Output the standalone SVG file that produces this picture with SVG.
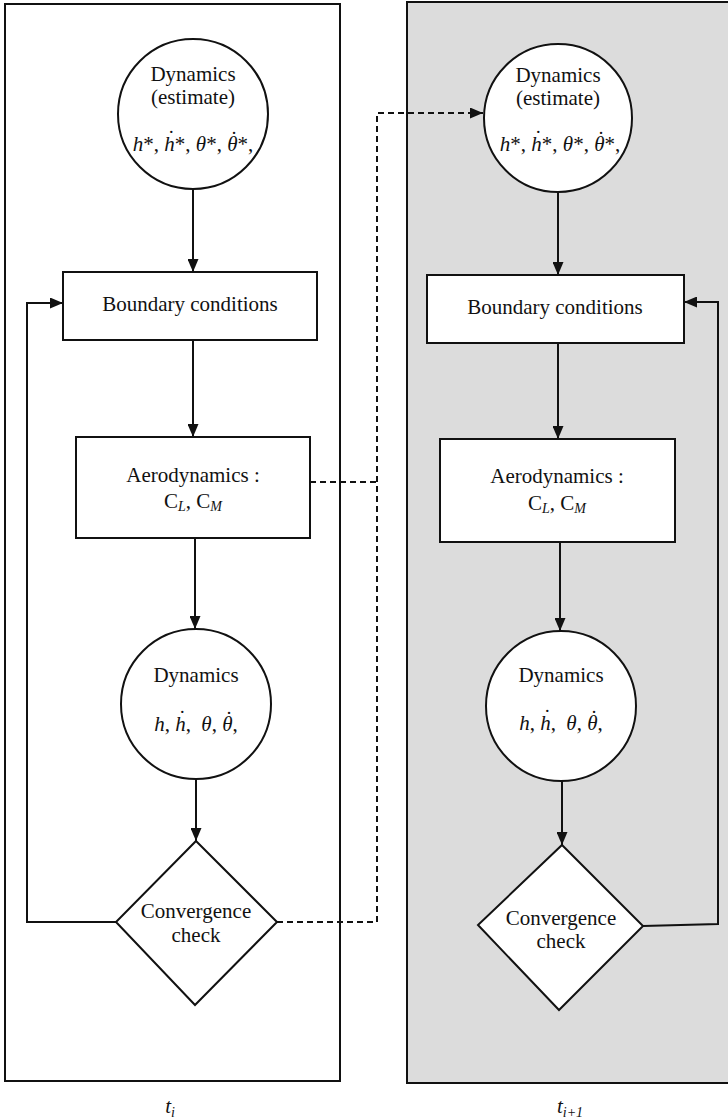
<svg xmlns="http://www.w3.org/2000/svg" width="728" height="1120" viewBox="0 0 728 1120">
<style>
.panel{stroke:#111;stroke-width:2;}
.node{fill:#fff;stroke:#111;stroke-width:2;}
.t{font-family:"Liberation Serif","Times New Roman",serif;font-size:21px;fill:#111;text-anchor:middle;}
.i{font-style:italic;}
.sub{font-style:italic;font-size:14px;}
.c{fill:none;stroke:#111;stroke-width:2;}
.d{fill:none;stroke:#111;stroke-width:2;stroke-dasharray:6,4;}
</style>
<defs>
<marker id="ah" markerUnits="userSpaceOnUse" markerWidth="13" markerHeight="11" refX="13" refY="5.5" orient="auto">
<path d="M0,0 L13,5.5 L0,11 z" fill="#111"/>
</marker>
</defs>
<g id="panel-ti">
<rect class="panel" x="5" y="4" width="335" height="1077" fill="#fff"/>
<text class="t i" x="170" y="1113">t<tspan class="sub" dy="4">i</tspan></text>
</g>
<g id="panel-ti1">
<rect class="panel" x="407" y="2" width="330" height="1081" fill="#dcdcdc"/>
<text class="t i" x="570" y="1113">t<tspan class="sub" dy="4">i+1</tspan></text>
</g>
<g id="connectors">
<line class="c" x1="193" y1="189" x2="193" y2="272" marker-end="url(#ah)"/>
<line class="c" x1="193" y1="340" x2="193" y2="437" marker-end="url(#ah)"/>
<line class="c" x1="195" y1="538" x2="195" y2="629" marker-end="url(#ah)"/>
<line class="c" x1="196" y1="779" x2="196" y2="841" marker-end="url(#ah)"/>
<polyline class="c" points="116,922 27,922 27,303 63,303" marker-end="url(#ah)"/>
<polyline class="d" points="310,482 377,482"/>
<polyline class="d" points="277,922 377,922 377,113 483,113" marker-end="url(#ah)"/>
<line class="c" x1="558" y1="193" x2="558" y2="275" marker-end="url(#ah)"/>
<line class="c" x1="558" y1="343" x2="558" y2="439" marker-end="url(#ah)"/>
<line class="c" x1="560" y1="542" x2="560" y2="631" marker-end="url(#ah)"/>
<line class="c" x1="562" y1="781" x2="562" y2="845" marker-end="url(#ah)"/>
<polyline class="c" points="643,926 718,924 718,302 684,302" marker-end="url(#ah)"/>
</g>
<g id="dyn-est-left">
<circle class="node" cx="193" cy="114" r="75"/>
<text class="t" x="193" y="81">Dynamics</text>
<text class="t" x="193" y="104">(estimate)</text>
<text class="t" x="193" y="151"><tspan class="i">h</tspan>*, <tspan class="i">h</tspan><tspan dx="-7" dy="-6">˙</tspan><tspan dx="0" dy="6">*, </tspan><tspan class="i">θ</tspan>*, <tspan class="i">θ</tspan><tspan dx="-7" dy="-5">˙</tspan><tspan dx="0" dy="5">*,</tspan></text>
</g>
<g id="bc-left">
<rect class="node" x="63" y="272" width="254" height="68"/>
<text class="t" x="190" y="311">Boundary conditions</text>
</g>
<g id="aero-left">
<rect class="node" x="76" y="437" width="234" height="101"/>
<text class="t" x="193" y="482">Aerodynamics :</text>
<text class="t" x="193" y="508">C<tspan class="sub" dy="3">L</tspan><tspan dy="-3">, C</tspan><tspan class="sub" dy="3">M</tspan></text>
</g>
<g id="dyn-left">
<circle class="node" cx="196" cy="704" r="75"/>
<text class="t" x="196" y="682">Dynamics</text>
<text class="t" x="196" y="731"><tspan class="i">h</tspan>, <tspan class="i">h</tspan><tspan dx="-7" dy="-6">˙</tspan><tspan dy="6">, </tspan><tspan class="i" dx="5">θ</tspan>, <tspan class="i">θ</tspan><tspan dx="-7" dy="-5">˙</tspan><tspan dy="5">,</tspan></text>
</g>
<g id="conv-left">
<polygon class="node" points="196,841 277,922 195,1005 116,922"/>
<text class="t" x="196" y="918">Convergence</text>
<text class="t" x="196" y="942">check</text>
</g>
<g id="dyn-est-right">
<circle class="node" cx="558" cy="118" r="74"/>
<text class="t" x="558" y="82">Dynamics</text>
<text class="t" x="558" y="105">(estimate)</text>
<text class="t" x="560" y="151"><tspan class="i">h</tspan>*, <tspan class="i">h</tspan><tspan dx="-7" dy="-6">˙</tspan><tspan dx="0" dy="6">*, </tspan><tspan class="i">θ</tspan>*, <tspan class="i">θ</tspan><tspan dx="-7" dy="-5">˙</tspan><tspan dx="0" dy="5">*,</tspan></text>
</g>
<g id="bc-right">
<rect class="node" x="427" y="275" width="257" height="68"/>
<text class="t" x="555" y="314">Boundary conditions</text>
</g>
<g id="aero-right">
<rect class="node" x="440" y="439" width="235" height="103"/>
<text class="t" x="557" y="483">Aerodynamics :</text>
<text class="t" x="557" y="510">C<tspan class="sub" dy="3">L</tspan><tspan dy="-3">, C</tspan><tspan class="sub" dy="3">M</tspan></text>
</g>
<g id="dyn-right">
<circle class="node" cx="561" cy="706" r="75"/>
<text class="t" x="561" y="682">Dynamics</text>
<text class="t" x="561" y="730"><tspan class="i">h</tspan>, <tspan class="i">h</tspan><tspan dx="-7" dy="-6">˙</tspan><tspan dy="6">, </tspan><tspan class="i" dx="5">θ</tspan>, <tspan class="i">θ</tspan><tspan dx="-7" dy="-5">˙</tspan><tspan dy="5">,</tspan></text>
</g>
<g id="conv-right">
<polygon class="node" points="562,845 643,926 559,1010 478,925"/>
<text class="t" x="561" y="925">Convergence</text>
<text class="t" x="561" y="948">check</text>
</g>
</svg>
